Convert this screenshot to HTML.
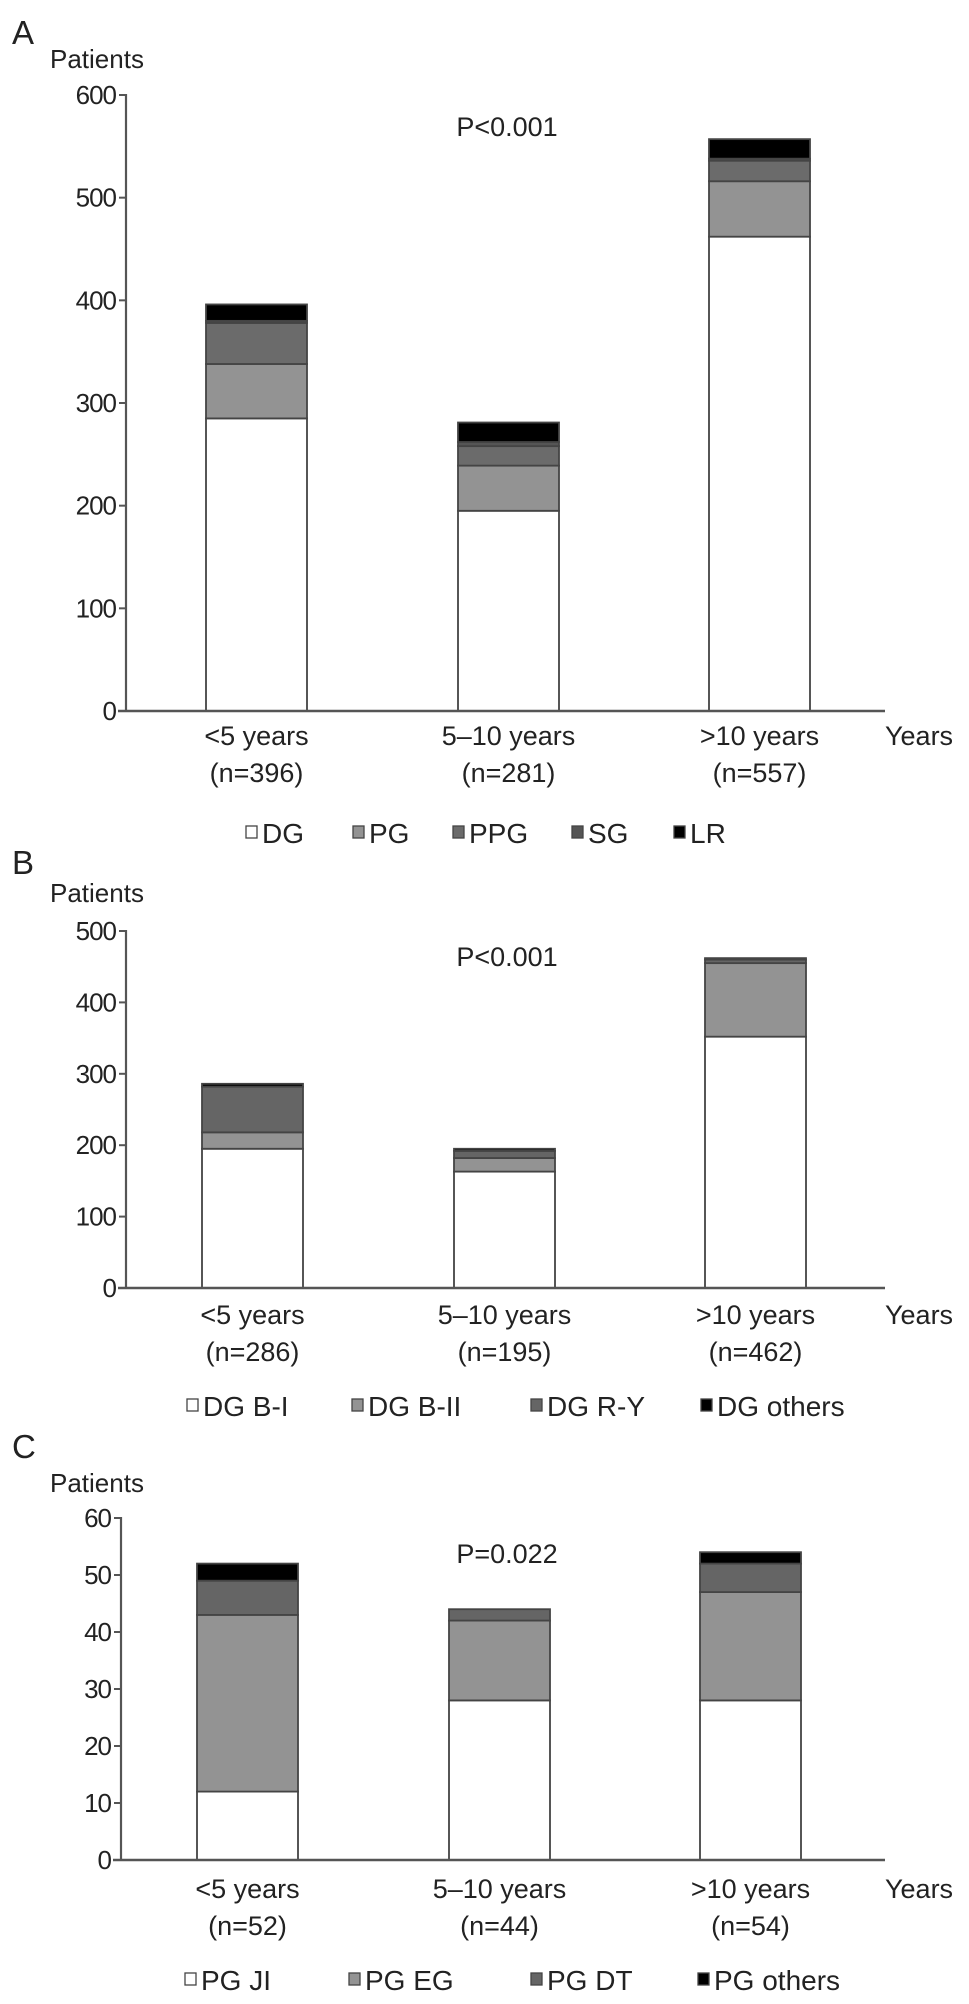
<!DOCTYPE html>
<html><head><meta charset="utf-8"><style>
html,body{margin:0;padding:0;background:#fff;}
svg{display:block;font-family:"Liberation Sans",Arial,sans-serif;}
</style></head><body>
<svg id="fig" width="969" height="2004" viewBox="0 0 969 2004"></svg>
<script>
const categories = ["<5 years", "5–10 years", ">10 years"];
const nA = ["(n=396)", "(n=281)", "(n=557)"];
const nB = ["(n=286)", "(n=195)", "(n=462)"];
const nC = ["(n=52)", "(n=44)", "(n=54)"];
const seriesA = ["DG", "PG", "PPG", "SG", "LR"];
const valuesA_DG = [285, 195, 462];
const valuesA_PG = [53, 44, 54];
const valuesA_PPG = [40, 19, 20];
const valuesA_SG = [2, 4, 2];
const valuesA_LR = [16, 19, 19];
const seriesB = ["DG B-I", "DG B-II", "DG R-Y", "DG others"];
const valuesB_BI = [195, 163, 352];
const valuesB_BII = [23, 19, 103];
const valuesB_RY = [64, 10, 5];
const valuesB_other = [4, 3, 2];
const seriesC = ["PG JI", "PG EG", "PG DT", "PG others"];
const valuesC_JI = [12, 28, 28];
const valuesC_EG = [31, 14, 19];
const valuesC_DT = [6, 2, 5];
const valuesC_other = [3, 0, 2];
const ticksA = [0, 100, 200, 300, 400, 500, 600];
const ticksB = [0, 100, 200, 300, 400, 500];
const ticksC = [0, 10, 20, 30, 40, 50, 60];

const NS = "http://www.w3.org/2000/svg";
const svg = document.getElementById("fig");
function mk(tag, attrs, parent, text) {
  const e = document.createElementNS(NS, tag);
  for (const k in attrs) e.setAttribute(k, attrs[k]);
  if (text !== undefined) e.textContent = text;
  (parent || svg).appendChild(e);
  return e;
}

function panel(cfg) {
  const g = mk("g", {});
  
  
  const yMax = cfg.ticks[cfg.ticks.length - 1];
  const y = v => cfg.y0 - (v / yMax) * (cfg.y0 - cfg.yTop);
  const xc = i => cfg.barX[i] + cfg.barW / 2;

  const lt = mk("text", {x: 12, y: cfg.letterY, "font-size": 33, fill: "#222"}, g, cfg.letter);
  
  
  const yt = mk("text", {x: cfg.patX, y: cfg.patY, "font-size": 26, fill: "#222"}, g, "Patients");
  
  

  for (let i = 0; i < categories.length; i++) {
    let acc = 0;
    for (let s = 0; s < cfg.series.length; s++) {
      const v = cfg.values[s][i];
      if (v <= 0) continue;
      const r = mk("rect", {x: cfg.barX[i], y: y(acc + v), width: cfg.barW, height: y(acc) - y(acc + v),
        fill: cfg.colors[s], stroke: "#444", "stroke-width": 1.8}, g);
      
      
      acc += v;
    }
  }

  const ax = mk("line", {x1: cfg.axX, y1: cfg.yTop - 1, x2: cfg.axX, y2: cfg.y0, stroke: "#555", "stroke-width": 2.2}, g);
  
  
  const bx = mk("line", {x1: cfg.axX - 8, y1: cfg.y0, x2: 885, y2: cfg.y0, stroke: "#555", "stroke-width": 2.5}, g);
  
  
  cfg.ticks.forEach(t => {
    mk("line", {x1: cfg.axX - 7, y1: y(t), x2: cfg.axX, y2: y(t), stroke: "#555", "stroke-width": 2}, g);
    const tl = mk("text", {x: cfg.axX - 10, y: y(t) + 9, "font-size": 26, "text-anchor": "end", fill: "#222", "letter-spacing": "-1"}, g, String(t));
    
    
  });

  categories.forEach((c, i) => {
    const a = mk("text", {x: xc(i), y: cfg.catY, "font-size": 27, "text-anchor": "middle", fill: "#222"}, g, c);
    
    
    const b = mk("text", {x: xc(i), y: cfg.catY + 37, "font-size": 27, "text-anchor": "middle", fill: "#222"}, g, cfg.n[i]);
    
    
  });
  const yr = mk("text", {x: 885, y: cfg.catY, "font-size": 27, fill: "#222"}, g, "Years");
  
  

  const p = mk("text", {x: 507, y: cfg.pY, "font-size": 27, "text-anchor": "middle", fill: "#222"}, g, cfg.p);
  
  

  cfg.series.forEach((s, k) => {
    const lx = cfg.legX[k];
    const lg = mk("g", {}, g);
    
    
    mk("rect", {x: lx, y: cfg.legY - 17, width: 11, height: 12, fill: cfg.colors[k], stroke: "#444", "stroke-width": 1.3}, lg);
    mk("text", {x: lx + 16, y: cfg.legY, "font-size": 28, fill: "#222"}, lg, s);
  });
}

panel({name: "panel-a", letter: "A", letterY: 44, patX: 50, patY: 68,
  ticks: ticksA, y0: 711, yTop: 95, axX: 126, barX: [206, 458, 709], barW: 101,
  series: seriesA, values: [valuesA_DG, valuesA_PG, valuesA_PPG, valuesA_SG, valuesA_LR],
  colors: ["#ffffff", "#939393", "#6b6b6b", "#555555", "#000000"],
  n: nA, catY: 745, pY: 136, p: "P<0.001", legY: 843, legX: [246, 353, 453, 572, 674]});

panel({name: "panel-b", letter: "B", letterY: 874, patX: 50, patY: 902,
  ticks: ticksB, y0: 1288, yTop: 931, axX: 126, barX: [202, 454, 705], barW: 101,
  series: seriesB, values: [valuesB_BI, valuesB_BII, valuesB_RY, valuesB_other],
  colors: ["#ffffff", "#939393", "#656565", "#000000"],
  n: nB, catY: 1324, pY: 966, p: "P<0.001", legY: 1416, legX: [187, 352, 531, 701]});

panel({name: "panel-c", letter: "C", letterY: 1458, patX: 50, patY: 1492,
  ticks: ticksC, y0: 1860, yTop: 1518, axX: 121, barX: [197, 449, 700], barW: 101,
  series: seriesC, values: [valuesC_JI, valuesC_EG, valuesC_DT, valuesC_other],
  colors: ["#ffffff", "#939393", "#656565", "#000000"],
  n: nC, catY: 1898, pY: 1563, p: "P=0.022", legY: 1990, legX: [185, 349, 531, 698]});
</script>
</body></html>
